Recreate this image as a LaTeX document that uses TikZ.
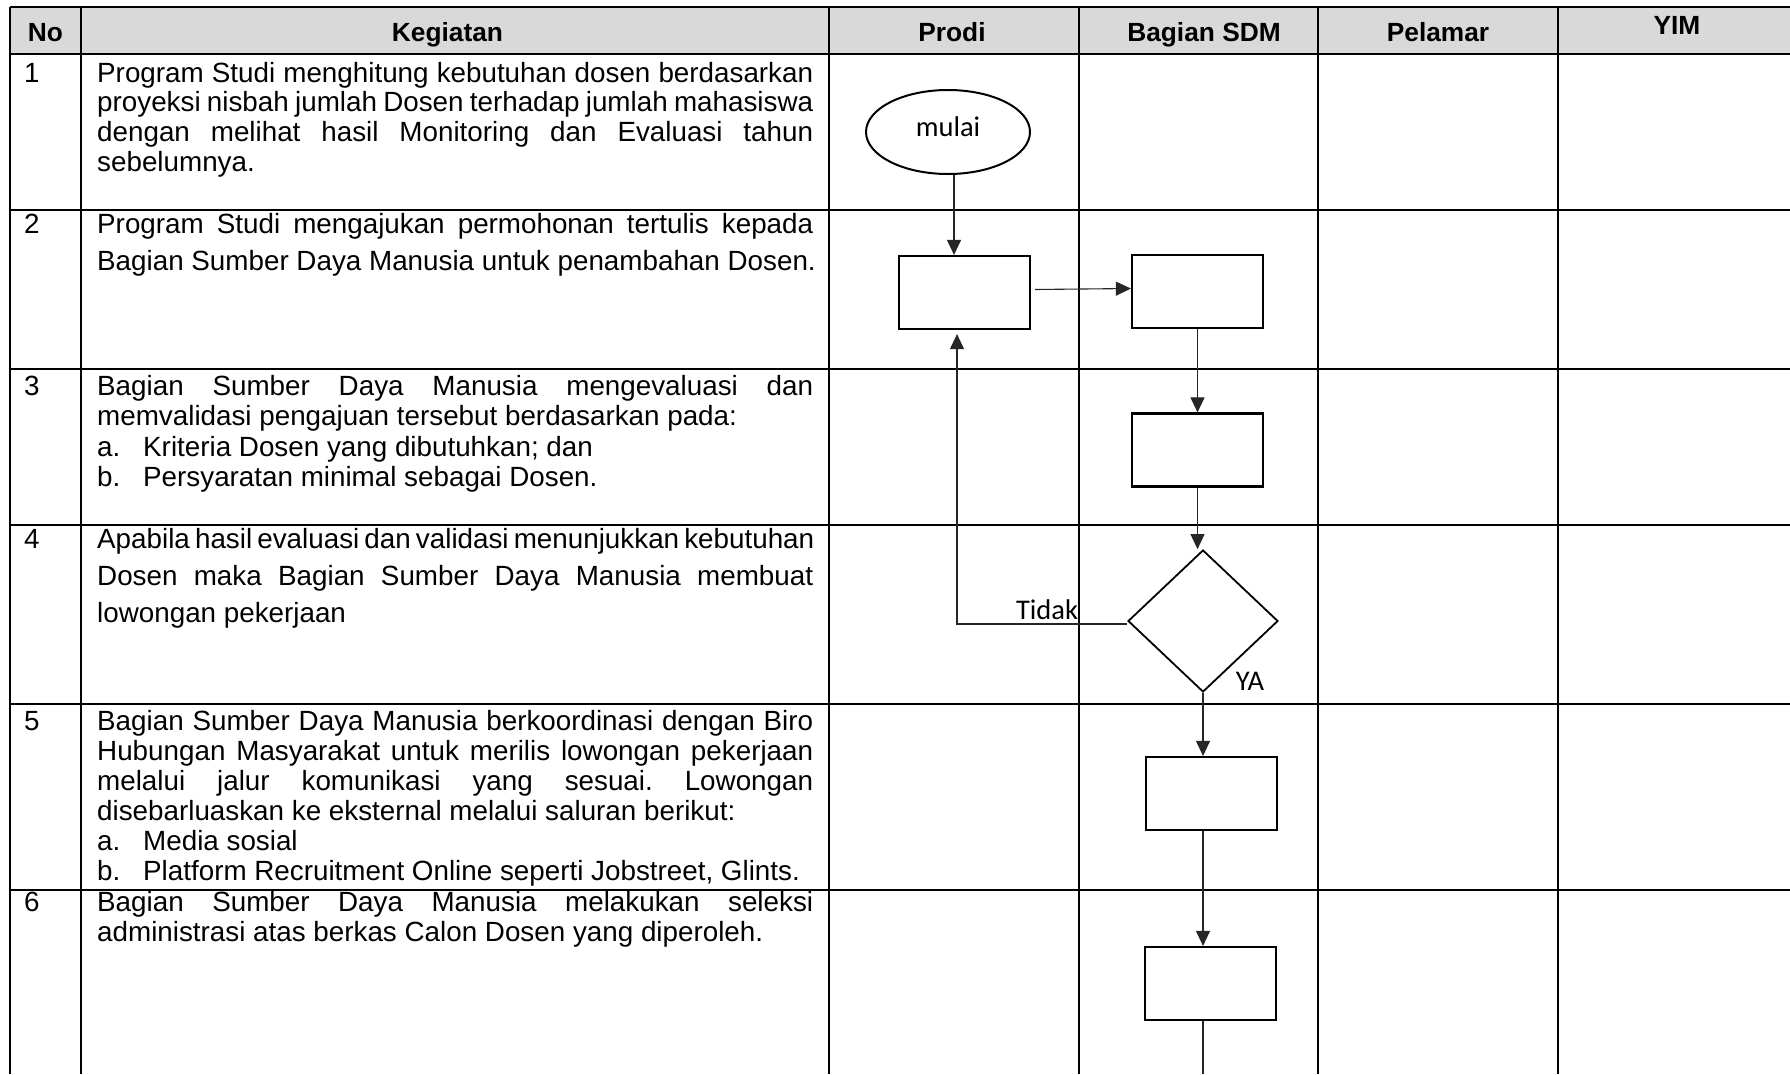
\documentclass[tikz,border=0pt]{standalone}
\usepackage{fontspec}
\setmainfont{Liberation Sans}
\newfontfamily\calfont{Carlito}
\usetikzlibrary{arrows.meta,shapes.geometric}
\definecolor{hdrgray}{HTML}{D9D9D9}
\newcommand\bodyfs{\fontsize{27.8}{30}\selectfont}
\newcommand\hdrfs{\fontsize{26.3}{30}\selectfont}
\newcommand\jline[1]{\makebox[716pt][s]{#1}}
\frenchspacing
\begin{document}
\begin{tikzpicture}[x=1pt,y=-1pt,
  txt/.style={anchor=base west, inner sep=0pt, font=\bodyfs},
  hdr/.style={anchor=base, inner sep=0pt, font=\hdrfs\bfseries},
  hline/.style={line width=1.8pt},
  vline/.style={line width=1.4pt},
  procbox/.style={draw, line width=2.2pt, minimum width=131pt, minimum height=73pt, inner sep=0pt},
  decis/.style={draw, diamond, line width=1.8pt, minimum width=150pt, minimum height=142pt, inner sep=0pt},
  startel/.style={draw, ellipse, line width=2pt, minimum width=164pt, minimum height=84pt, inner sep=0pt, text height=20pt, text depth=12pt, font=\calfont\fontsize{28.5}{30}\selectfont},
  lbl/.style={anchor=base, inner sep=0pt, font=\calfont\fontsize{28.5}{30}\selectfont},
  conn/.style={line width=1.1pt, draw=black!85, -{Triangle[length=15pt,width=14pt]}},
  plain/.style={line width=1.1pt, draw=black!85}]
\useasboundingbox (0,0) rectangle (1790,1074);
\fill[white] (0,0) rectangle (1790,1074);
% header background
\fill[hdrgray] (10,7) rectangle (1790,54);
% grid
\foreach \yy in {7,54,210,369,525,704,890} {\draw[hline] (10,\yy) -- (1790,\yy);}
\foreach \xx in {10,81,829,1079,1318,1558} {\draw[vline] (\xx,7) -- (\xx,1074);}
% header
\node[hdr] (hNo) at (45.5,41) {No};
\node[hdr] (hKeg) at (447.5,41) {Kegiatan};
\node[hdr] (hProdi) at (952,41) {Prodi};
\node[hdr] (hSDM) at (1204,41) {Bagian SDM};
\node[hdr] (hPel) at (1438,41) {Pelamar};
\node[hdr] (hYIM) at (1677,34) {YIM};
% numbers
\node[txt] (n1) at (24,82) {1};
\node[txt] (n2) at (24,233) {2};
\node[txt] (n3) at (24,395) {3};
\node[txt] (n4) at (24,548) {4};
\node[txt] (n5) at (24,730) {5};
\node[txt] (n6) at (24,911) {6};
% row 1
\node[txt] (r1a) at (97,82) {\jline{Program Studi menghitung kebutuhan dosen berdasarkan}};
\node[txt] (r1b) at (97,111.7) {\jline{proyeksi nisbah jumlah Dosen terhadap jumlah mahasiswa}};
\node[txt] (r1c) at (97,141.4) {\jline{dengan melihat hasil Monitoring dan Evaluasi tahun}};
\node[txt] (r1d) at (97,171) {sebelumnya.};
% row 2
\node[txt] (r2a) at (97,233) {\jline{Program Studi mengajukan permohonan tertulis kepada}};
\node[txt] (r2b) at (97,270) {Bagian Sumber Daya Manusia untuk penambahan Dosen.};
% row 3
\node[txt] (r3a) at (97,395) {\jline{Bagian Sumber Daya Manusia mengevaluasi dan}};
\node[txt] (r3b) at (97,425) {memvalidasi pengajuan tersebut berdasarkan pada:};
\node[txt] (r3c) at (97,456) {a.};
\node[txt] (r3ct) at (143,456) {Kriteria Dosen yang dibutuhkan; dan};
\node[txt] (r3d) at (97,486) {b.};
\node[txt] (r3dt) at (143,486) {Persyaratan minimal sebagai Dosen.};
% row 4
\node[txt] (r4a) at (97,548) {\jline{Apabila hasil evaluasi dan validasi menunjukkan kebutuhan}};
\node[txt] (r4b) at (97,585) {\jline{Dosen maka Bagian Sumber Daya Manusia membuat}};
\node[txt] (r4c) at (97,622) {lowongan pekerjaan};
% row 5
\node[txt] (r5a) at (97,730) {\jline{Bagian Sumber Daya Manusia berkoordinasi dengan Biro}};
\node[txt] (r5b) at (97,760) {\jline{Hubungan Masyarakat untuk merilis lowongan pekerjaan}};
\node[txt] (r5c) at (97,790) {\jline{melalui jalur komunikasi yang sesuai. Lowongan}};
\node[txt] (r5d) at (97,820) {disebarluaskan ke eksternal melalui saluran berikut:};
\node[txt] (r5e) at (97,850) {a.};
\node[txt] (r5et) at (143,850) {Media sosial};
\node[txt] (r5f) at (97,880) {b.};
\node[txt] (r5ft) at (143,880) {Platform Recruitment Online seperti Jobstreet, Glints.};
% row 6
\node[txt] (r6a) at (97,911) {\jline{Bagian Sumber Daya Manusia melakukan seleksi}};
\node[txt] (r6b) at (97,941) {administrasi atas berkas Calon Dosen yang diperoleh.};
% flow nodes
\node[startel] (mulai) at (948,132) {mulai};
\node[procbox] (b1) at (964.5,292.5) {};
\node[procbox] (b2) at (1197.5,291.5) {};
\node[procbox] (b3) at (1197.5,450) {};
\node[decis] (d1) at (1203,621) {};
\node[procbox] (b4) at (1211.5,793.5) {};
\node[procbox] (b5) at (1210.5,983.5) {};
\coordinate (endc) at (1203,1074);
\node[lbl] (tidak) at (1047,619) {Tidak};
\node[lbl] (ya) at (1250,690) {YA};
% connectors
\draw[conn] ([xshift=6pt]mulai.south) -- ([xshift=6pt]mulai.south |- b1.north);
\draw[conn] ([xshift=4pt,yshift=3pt]b1.east) -- ([yshift=3pt]b2.west);
\draw[conn] (b2.south) -- (b3.north);
\draw[conn] (b3.south) -- (b3.south |- d1.north);
\draw[conn] ([yshift=-3pt]d1.west) -| ([xshift=-7.5pt,yshift=-4pt]b1.south);
\draw[conn] (d1.south) -- (d1.south |- b4.north);
\draw[conn] (d1.south |- b4.south) -- (d1.south |- b5.north);
\draw[plain] (endc |- b5.south) -- (endc);
\end{tikzpicture}
\end{document}
